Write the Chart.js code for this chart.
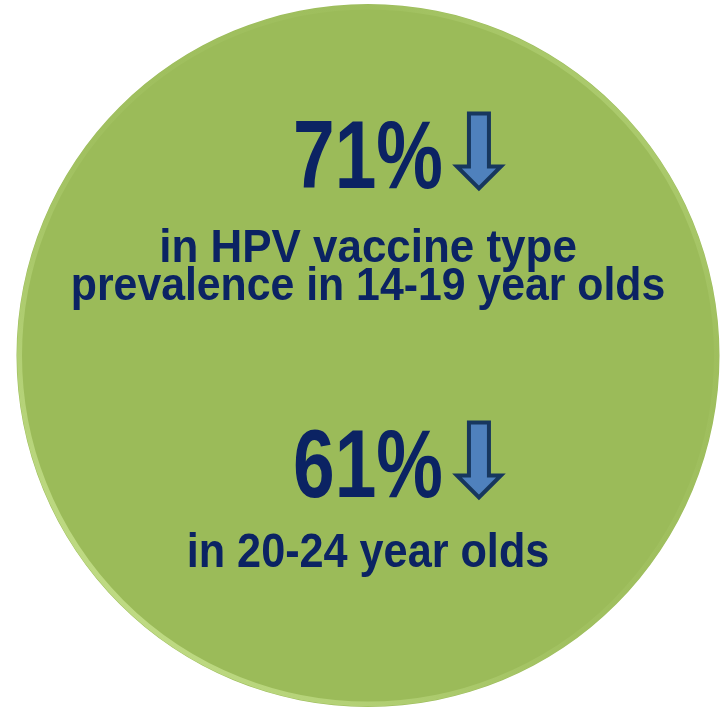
<!DOCTYPE html>
<html lang="en">
<head>
    <meta charset="UTF-8">
    <title>HPV vaccine type prevalence</title>
    <script src="https://cdn.jsdelivr.net/npm/chart.js"></script>
    <style>
        html, body { margin: 0; padding: 0; background: #ffffff; }
        .wrap { width: 727px; height: 711px; }
    </style>
</head>
<body>
    <div class="wrap"><canvas id="badge"></canvas></div>

    <script>
        // one full slice makes the green disc
        const discValue = [100];
        // percentage drops and the text under each one
        const drops = [71, 61];
        const captions = [
            ['in HPV vaccine type', 'prevalence in 14-19 year olds'],
            ['in 20-24 year olds']
        ];

        const green = '#9bbb59';
        const navy = '#0b2363';

        function boldText(ctx, text, cx, baseline, size, sx) {
            ctx.save();
            ctx.font = 'bold ' + size + 'px "Liberation Sans", Arial, sans-serif';
            ctx.textAlign = 'center';
            ctx.textBaseline = 'alphabetic';
            ctx.translate(cx, baseline);
            ctx.scale(sx, 1);
            ctx.fillText(text, 0, 0);
            const w = ctx.measureText(text).width * sx;
            ctx.restore();
            return w;
        }

        function downArrow(ctx, left, top, tip) {
            const shaftW = 20, headW = 44, headH = 22;
            const cx = left + headW / 2;
            ctx.save();
            ctx.beginPath();
            ctx.moveTo(cx - shaftW / 2, top);
            ctx.lineTo(cx + shaftW / 2, top);
            ctx.lineTo(cx + shaftW / 2, tip - headH);
            ctx.lineTo(cx + headW / 2, tip - headH);
            ctx.lineTo(cx, tip);
            ctx.lineTo(cx - headW / 2, tip - headH);
            ctx.lineTo(cx - shaftW / 2, tip - headH);
            ctx.closePath();
            ctx.fillStyle = '#4f81bd';
            ctx.fill();
            ctx.lineWidth = 4;
            ctx.lineJoin = 'miter';
            ctx.strokeStyle = '#17375e';
            ctx.stroke();
            ctx.restore();
        }

        const rimAndText = {
            id: 'rimAndText',
            afterDatasetsDraw(chart) {
                const ctx = chart.ctx;
                const arc = chart.getDatasetMeta(0).data[0];
                const cx = arc.x, cy = arc.y, r = arc.outerRadius;

                // soft bevel along the edge
                const g = ctx.createLinearGradient(cx - r, cy + r, cx + r, cy - r);
                g.addColorStop(0, 'rgba(214,238,160,0.95)');
                g.addColorStop(0.45, 'rgba(190,220,130,0.15)');
                g.addColorStop(0.75, 'rgba(190,220,130,0.1)');
                g.addColorStop(1, 'rgba(205,232,150,0.8)');
                ctx.save();
                ctx.beginPath();
                ctx.arc(cx, cy, r - 3, 0, Math.PI * 2);
                ctx.lineWidth = 5;
                ctx.strokeStyle = g;
                ctx.stroke();
                ctx.restore();

                ctx.fillStyle = navy;
                const numBase = [cy - 168, cy + 141];
                const capBase = [[cy - 94, cy - 56], [cy + 211]];
                const capStyle = [[[47, 0.935], [47, 0.91]], [[48, 0.9]]];

                drops.forEach((v, i) => {
                    const w = boldText(ctx, v + '%', cx, numBase[i], 96, 0.78);
                    downArrow(ctx, cx + w / 2 + 14, numBase[i] - 74, numBase[i] + 1);
                    ctx.fillStyle = navy;
                    captions[i].forEach((line, j) => {
                        boldText(ctx, line, cx, capBase[i][j], capStyle[i][j][0], capStyle[i][j][1]);
                    });
                });
            }
        };

        new Chart('badge', {
            type: 'pie',
            data: {
                labels: ['disc'],
                datasets: [{
                    data: discValue,
                    backgroundColor: [green],
                    borderWidth: 0
                }]
            },
            options: {
                responsive: true,
                maintainAspectRatio: false,
                animation: false,
                layout: { padding: { left: 16, right: 7, top: 4, bottom: 4 } },
                plugins: {
                    legend: { display: false },
                    tooltip: { enabled: false }
                }
            },
            plugins: [rimAndText]
        });
    </script>
</body>
</html>
